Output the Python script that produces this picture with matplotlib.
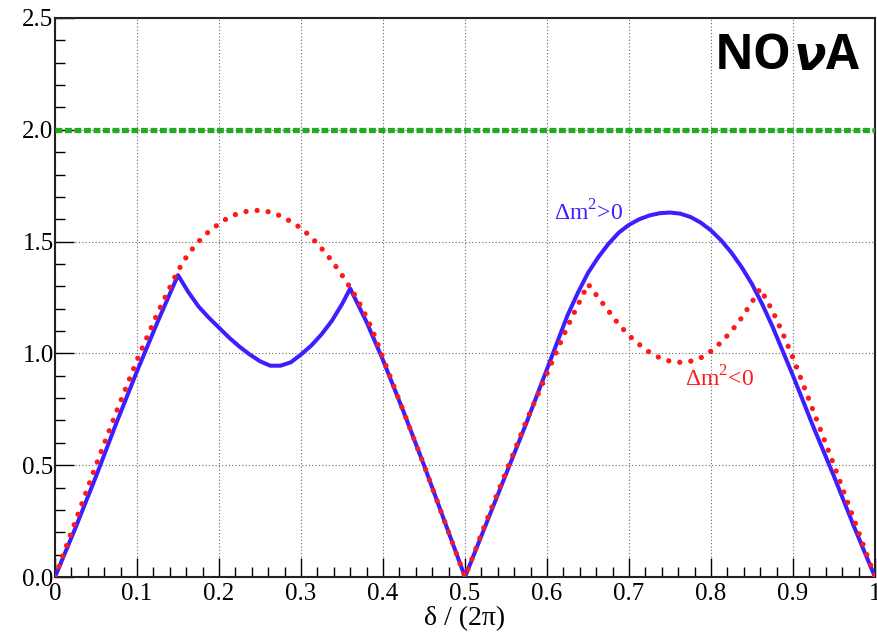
import matplotlib
matplotlib.use("Agg")
import matplotlib.pyplot as plt
from matplotlib.ticker import MultipleLocator
from matplotlib.transforms import offset_copy

# ---- data ----
blue_x = [0, 0.025, 0.05, 0.075, 0.1, 0.125, 0.15,
          0.1625, 0.175, 0.1875, 0.2, 0.2125, 0.225, 0.2375, 0.25, 0.2625, 0.275,
          0.2875, 0.3, 0.3125, 0.325, 0.3375, 0.35, 0.36,
          0.38, 0.4, 0.425, 0.45, 0.475, 0.5,
          0.525, 0.55, 0.575, 0.6, 0.6125, 0.625, 0.6375, 0.65, 0.6625, 0.675, 0.6875,
          0.7, 0.7125, 0.725, 0.7375, 0.75, 0.7625, 0.775, 0.7875, 0.8, 0.8125, 0.825,
          0.8375, 0.85, 0.8625, 0.875, 0.8875, 0.9, 0.925, 0.95, 0.975, 1.0]
blue_y = [0, 0.22, 0.45, 0.69, 0.92, 1.14, 1.35,
          1.275, 1.21, 1.16, 1.115, 1.07, 1.03, 0.995, 0.965, 0.945, 0.945,
          0.96, 0.995, 1.035, 1.085, 1.145, 1.22, 1.29,
          1.14, 0.97, 0.74, 0.50, 0.25, 0.0,
          0.23, 0.46, 0.69, 0.93, 1.05, 1.17, 1.27, 1.36, 1.43, 1.49, 1.54,
          1.575, 1.60, 1.617, 1.627, 1.63, 1.625, 1.61, 1.585, 1.55, 1.505, 1.45,
          1.385, 1.31, 1.22, 1.12, 1.01, 0.90, 0.67, 0.45, 0.22, 0.0]

red_x = [0, 0.025, 0.05, 0.075, 0.1, 0.125, 0.15,
         0.1625, 0.175, 0.1875, 0.2, 0.2125, 0.225, 0.2375, 0.25, 0.2625, 0.275,
         0.2875, 0.3, 0.3125, 0.325, 0.3375, 0.35, 0.3625, 0.375, 0.3875, 0.4,
         0.425, 0.45, 0.475, 0.5,
         0.525, 0.55, 0.575, 0.6, 0.625, 0.65,
         0.6625, 0.675, 0.6875, 0.7, 0.7125, 0.725, 0.7375, 0.75, 0.7625, 0.775,
         0.7875, 0.8, 0.8125, 0.825, 0.8375, 0.85, 0.86,
         0.875, 0.8875, 0.9, 0.925, 0.95, 0.975, 1.0]
red_y = [0, 0.25, 0.50, 0.74, 0.97, 1.18, 1.37,
         1.445, 1.50, 1.545, 1.58, 1.61, 1.628, 1.638, 1.64, 1.632, 1.615,
         1.59, 1.56, 1.52, 1.47, 1.415, 1.35, 1.28, 1.20, 1.10, 0.98,
         0.74, 0.50, 0.25, 0.0,
         0.24, 0.47, 0.70, 0.91, 1.12, 1.31,
         1.25, 1.19, 1.13, 1.08, 1.04, 1.005, 0.98, 0.965, 0.96, 0.965,
         0.98, 1.01, 1.05, 1.10, 1.16, 1.23, 1.29,
         1.19, 1.09, 0.98, 0.74, 0.50, 0.25, 0.0]

green_x = [0, 1]
green_y = [2.0, 2.0]

xtick_vals = [0, 0.1, 0.2, 0.3, 0.4, 0.5, 0.6, 0.7, 0.8, 0.9, 1.0]
xtick_labels = ['0', '0.1', '0.2', '0.3', '0.4', '0.5', '0.6', '0.7', '0.8', '0.9', '1']
ytick_vals = [0, 0.5, 1.0, 1.5, 2.0, 2.5]
ytick_labels = ['0.0', '0.5', '1.0', '1.5', '2.0', '2.5']

xlabel = "δ / (2π)"
label_pos = "Δm$^{2}$>0"
label_neg = "Δm$^{2}$<0"

# ---- figure ----
plt.rcParams['font.family'] = ['Liberation Serif', 'DejaVu Serif']
plt.rcParams['mathtext.fontset'] = 'custom'
plt.rcParams['mathtext.rm'] = 'Liberation Serif'

fig = plt.figure(figsize=(8.77, 6.33), dpi=100)
ax = fig.add_axes([55/877, 1-577/633, 820/877, 559/633])

ax.plot(green_x, green_y, color='#22aa22', lw=3.8, linestyle=(0, (1.3, 0.5)),
        solid_capstyle='butt', dash_capstyle='butt', zorder=3)
ax.plot(blue_x, blue_y, color='#3b1fff', lw=2.9, solid_joinstyle='round', zorder=3)
ax.plot(red_x, red_y, color='#ff1a1a', lw=3.8, linestyle=(0, (0.01, 2.1)),
        dash_capstyle='round', zorder=4)

ax.set_xlim(0, 1)
ax.set_ylim(0, 2.5)
ax.xaxis.set_minor_locator(MultipleLocator(0.02))
ax.yaxis.set_minor_locator(MultipleLocator(0.1))
ax.set_xticks(xtick_vals)
ax.set_xticklabels(xtick_labels)
ax.set_yticks(ytick_vals)
ax.set_yticklabels(ytick_labels)

ax.tick_params(which='both', direction='in', top=False, right=False,
               labelsize=18, colors='black', width=1.0)
ax.tick_params(which='major', length=14)
ax.tick_params(which='minor', length=7)
ax.tick_params(axis='x', pad=4)
ax.tick_params(axis='y', pad=1)

ax.grid(True, which='major', color='#666666', linestyle=(0, (1, 2)), lw=0.8)
for s in ax.spines.values():
    s.set_linewidth(1.5)
    s.set_color('#222222')

ax.set_xlabel(xlabel, fontsize=20, labelpad=1)

ax.text(0.608, 1.63, label_pos, color='#3b1fff', fontsize=17, ha='left', va='center')
ax.text(0.768, 0.885, label_neg, color='#ff1a1a', fontsize=17, ha='left', va='center')

# NOvA logo text
fig.canvas.draw()
renderer = fig.canvas.get_renderer()
t1 = ax.text(0.805, 2.33, "NO", fontsize=34.5, fontweight='bold', family='Open Sans',
             ha='left', va='center', color='black')
w1 = t1.get_window_extent(renderer).width
tr2 = offset_copy(t1.get_transform(), fig=fig, x=w1 * 72 / fig.dpi + 1, y=0, units='points')
t2 = ax.text(0.805, 2.33, "ν", fontsize=34.5, fontweight='bold', style='italic',
             family='DejaVu Sans', ha='left', va='center', color='black', transform=tr2)
w2 = t2.get_window_extent(renderer).width
tr3 = offset_copy(t1.get_transform(), fig=fig, x=(w1 + w2) * 72 / fig.dpi + 1, y=0,
                  units='points')
ax.text(0.805, 2.33, "A", fontsize=34.5, fontweight='bold', family='Open Sans',
        ha='left', va='center', color='black', transform=tr3)

fig.savefig("out.png", dpi=100)
